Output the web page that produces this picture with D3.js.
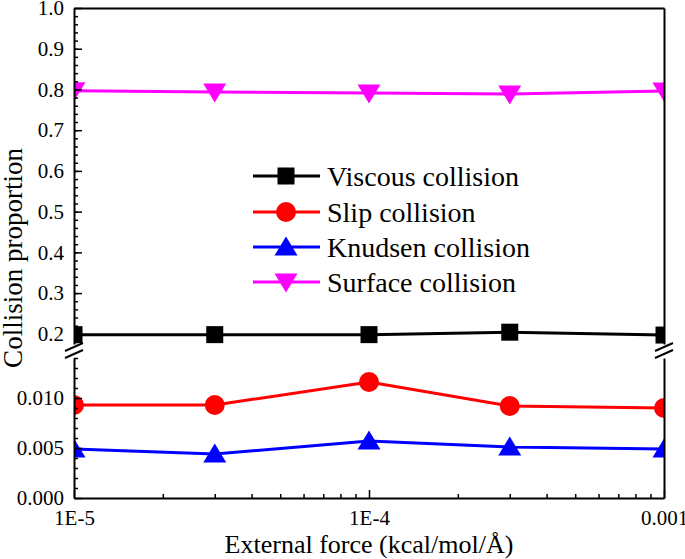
<!DOCTYPE html>
<html>
<head>
<meta charset="utf-8">
<script src="https://cdn.jsdelivr.net/npm/d3@7"></script>
<style>
  body { margin: 0; background: #fff; }
</style>
</head>
<body>
<div id="chart-container"></div>
<script>
// Data
const forces = [1e-5, 3e-5, 1e-4, 3e-4, 1e-3];
const viscous = [0.198, 0.198, 0.198, 0.204, 0.197];
const slip = [0.0093, 0.0093, 0.0116, 0.0092, 0.0090];
const knudsen = [0.0049, 0.0044, 0.0057, 0.0051, 0.0049];
const surface = [0.797, 0.794, 0.791, 0.789, 0.796];

const xTicks = [1e-5, 1e-4, 1e-3];
const xTickLabels = ["1E-5", "1E-4", "0.001"];
const yUpperTicks = [0.2, 0.3, 0.4, 0.5, 0.6, 0.7, 0.8, 0.9, 1.0];
const yLowerTicks = [0, 0.005, 0.010];

const W = 685, H = 559;
const pLeft = 74, pRight = 664, pTop = 8, pBottom = 498;
const breakTop = 344, breakBottom = 358;
const serif = "'Liberation Serif', 'Times New Roman', Times, serif";

const svg = d3.select("#chart-container")
              .append("svg")
              .attr("width", W)
              .attr("height", H)
              .style("font-family", serif);

// Scales: log x, broken y (upper and lower segments)
const x = d3.scaleLog().domain([1e-5, 1e-3]).range([pLeft, pRight]);
const yUp = d3.scaleLinear().domain([0.175, 1.0]).range([breakTop, pTop]);
const yLo = d3.scaleLinear().domain([0, 0.014]).range([pBottom, breakBottom]);

// Clip markers to the plot area
svg.append("clipPath").attr("id", "plot")
   .append("rect")
   .attr("x", pLeft).attr("y", 0)
   .attr("width", pRight - pLeft).attr("height", H);

const series = [
  { name: "Viscous collision", values: viscous, y: yUp, color: "#000000", shape: "square" },
  { name: "Slip collision", values: slip, y: yLo, color: "#ff0000", shape: "circle" },
  { name: "Knudsen collision", values: knudsen, y: yLo, color: "#0000ff", shape: "up" },
  { name: "Surface collision", values: surface, y: yUp, color: "#ff00ff", shape: "down" }
];

function drawMarker(g, shape, color) {
  if (shape === "square") {
    g.append("rect").attr("x", -8.5).attr("y", -8.5).attr("width", 17).attr("height", 17).attr("fill", color);
  } else if (shape === "circle") {
    g.append("circle").attr("r", 10).attr("fill", color);
  } else if (shape === "up") {
    g.append("path").attr("d", "M0,-10.5L11.5,8.5L-11.5,8.5Z").attr("fill", color);
  } else {
    g.append("path").attr("d", "M0,10.5L11.5,-8.5L-11.5,-8.5Z").attr("fill", color);
  }
}

const plot = svg.append("g").attr("clip-path", "url(#plot)");

series.forEach(s => {
  const pts = forces.map((f, i) => [f, s.values[i]]);
  const line = d3.line().x(d => x(d[0])).y(d => s.y(d[1]));
  plot.append("path")
      .datum(pts)
      .attr("d", line)
      .attr("fill", "none")
      .attr("stroke", s.color)
      .attr("stroke-width", 3);
  pts.forEach(d => {
    const g = plot.append("g").attr("transform", `translate(${x(d[0])},${s.y(d[1])})`);
    drawMarker(g, s.shape, s.color);
  });
});

// Axes
function styleAxis(g) {
  g.attr("font-family", null);
  g.select(".domain").attr("stroke-width", 2);
  g.selectAll(".tick line").attr("stroke-width", 1.5);
  g.selectAll(".tick text")
   .style("font-family", serif)
   .style("font-size", "21px")
   .attr("fill", "#000");
}

// Bottom axis
const xMinor = [];
[1e-5, 1e-4].forEach(d => { for (let k = 2; k <= 9; k++) xMinor.push(d * k); });
svg.append("g")
   .attr("transform", `translate(0,${pBottom})`)
   .call(d3.axisBottom(x).tickValues(xMinor).tickSize(-4).tickFormat(""))
   .call(g => g.select(".domain").remove())
   .call(styleAxis);
svg.append("g")
   .attr("transform", `translate(0,${pBottom})`)
   .call(d3.axisBottom(x).tickValues(xTicks).tickSizeInner(-8).tickSizeOuter(0).tickPadding(12)
           .tickFormat((d, i) => xTickLabels[i]))
   .call(styleAxis);

// Top frame
svg.append("g")
   .attr("transform", `translate(0,${pTop})`)
   .call(d3.axisTop(x).tickValues([]).tickSizeOuter(0))
   .call(styleAxis);

// Left axis, upper segment
svg.append("g")
   .attr("transform", `translate(${pLeft},0)`)
   .call(d3.axisLeft(yUp).tickValues(d3.range(0.18, 1.0, 0.02)).tickSize(-4).tickFormat(""))
   .call(g => g.select(".domain").remove())
   .call(styleAxis);
svg.append("g")
   .attr("transform", `translate(${pLeft},0)`)
   .call(d3.axisLeft(yUp).tickValues(yUpperTicks).tickSizeInner(-8).tickSizeOuter(0).tickPadding(10)
           .tickFormat(d3.format(".1f")))
   .call(styleAxis);

// Left axis, lower segment
svg.append("g")
   .attr("transform", `translate(${pLeft},0)`)
   .call(d3.axisLeft(yLo).tickValues(d3.range(0.001, 0.0141, 0.001)).tickSize(-4).tickFormat(""))
   .call(g => g.select(".domain").remove())
   .call(styleAxis);
svg.append("g")
   .attr("transform", `translate(${pLeft},0)`)
   .call(d3.axisLeft(yLo).tickValues(yLowerTicks).tickSizeInner(-8).tickSizeOuter(0).tickPadding(10)
           .tickFormat(d3.format(".3f")))
   .call(styleAxis);

// Right frame, both segments
[yUp, yLo].forEach(sc => {
  svg.append("g")
     .attr("transform", `translate(${pRight},0)`)
     .call(d3.axisRight(sc).tickValues([]).tickSizeOuter(0))
     .call(styleAxis);
});

// Break marks
[pLeft, pRight].forEach(ax => {
  [breakTop + 3, breakBottom - 4].forEach(cy => {
    svg.append("line")
       .attr("x1", ax - 9).attr("y1", cy + 4)
       .attr("x2", ax + 9).attr("y2", cy - 4)
       .attr("stroke", "#000")
       .attr("stroke-width", 2);
  });
});

// Legend
const legendRows = [176, 212, 247, 282];
series.forEach((s, i) => {
  const ly = legendRows[i];
  svg.append("line")
     .attr("x1", 253).attr("x2", 320)
     .attr("y1", ly).attr("y2", ly)
     .attr("stroke", s.color)
     .attr("stroke-width", 3);
  const g = svg.append("g").attr("transform", `translate(286,${ly})`);
  drawMarker(g, s.shape, s.color);
  svg.append("text")
     .attr("x", 327)
     .attr("y", ly)
     .attr("dy", "0.35em")
     .style("font-family", serif)
     .style("font-size", "28px")
     .text(s.name);
});

// Axis titles
svg.append("text")
   .attr("x", (pLeft + pRight) / 2)
   .attr("y", 553)
   .attr("text-anchor", "middle")
   .style("font-family", serif)
   .style("font-size", "26px")
   .text("External force (kcal/mol/Å)");

svg.append("text")
   .attr("transform", `translate(22,258) rotate(-90)`)
   .attr("text-anchor", "middle")
   .style("font-family", serif)
   .style("font-size", "27px")
   .text("Collision proportion");
</script>
</body>
</html>
